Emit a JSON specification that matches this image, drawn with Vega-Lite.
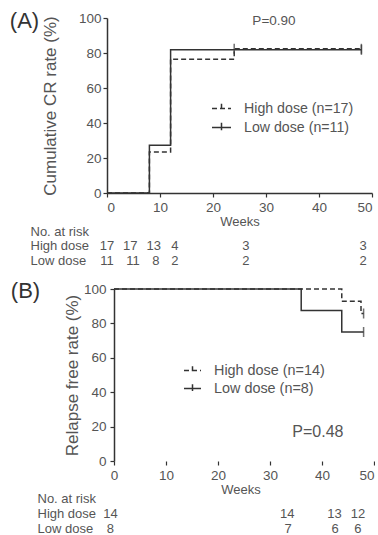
{
  "$schema": "https://vega.github.io/schema/vega-lite/v6.json",
  "padding": {"left": 9, "top": 10, "right": 0, "bottom": 0},
  "bounds": "flush",
  "spacing": 20,
  "config": {
    "font": "Liberation Sans",
    "view": {"stroke": null},
    "axis": {
      "domainColor": "#333", "tickColor": "#333", "labelColor": "#555", "titleColor": "#555",
      "labelFontSize": 13.5, "titleFontSize": 17, "titleFontWeight": "normal", "grid": false,
      "tickSize": 4, "domainWidth": 1.5, "tickWidth": 1.2, "labelOverlap": false, "tickCount": 20
    },
    "legend": {
      "orient": "none", "title": null, "padding": 0, "rowPadding": 1,
      "symbolType": "M-1,0H1M0,-0.5V0.3", "symbolStrokeColor": "#333", "symbolFillColor": "transparent",
      "symbolStrokeWidth": 1.5, "labelColor": "#555", "labelOffset": 12, "labelFontSize": 14.2
    },
    "title": {"fontWeight": "normal", "color": "#333"}
  },
  "resolve": {
    "scale": {"x": "independent", "y": "independent", "strokeDash": "independent"},
    "legend": {"strokeDash": "independent"}
  },
  "datasets": {
    "curvesA": [
      {"group": "High dose (n=17)", "week": 0, "rate": 0},
      {"group": "High dose (n=17)", "week": 8, "rate": 23.5},
      {"group": "High dose (n=17)", "week": 12, "rate": 76.5},
      {"group": "High dose (n=17)", "week": 24, "rate": 82.4},
      {"group": "High dose (n=17)", "week": 48, "rate": 82.4},
      {"group": "Low dose (n=11)", "week": 0, "rate": 0},
      {"group": "Low dose (n=11)", "week": 8, "rate": 27.3},
      {"group": "Low dose (n=11)", "week": 12, "rate": 81.8},
      {"group": "Low dose (n=11)", "week": 48, "rate": 81.8}
    ],
    "censorA": [
      {"group": "High dose (n=17)", "week": 24, "rate": 82.4},
      {"group": "High dose (n=17)", "week": 48, "rate": 82.4},
      {"group": "Low dose (n=11)", "week": 48, "rate": 81.8}
    ],
    "riskA": [
      {"row": "High dose", "week": 0, "n": "17"},
      {"row": "High dose", "week": 4.4, "n": "17"},
      {"row": "High dose", "week": 8.8, "n": "13"},
      {"row": "High dose", "week": 12.8, "n": "4"},
      {"row": "High dose", "week": 26.2, "n": "3"},
      {"row": "High dose", "week": 48.3, "n": "3"},
      {"row": "Low dose", "week": 0, "n": "11"},
      {"row": "Low dose", "week": 4.9, "n": "11"},
      {"row": "Low dose", "week": 9.2, "n": "8"},
      {"row": "Low dose", "week": 12.8, "n": "2"},
      {"row": "Low dose", "week": 26.2, "n": "2"},
      {"row": "Low dose", "week": 48.3, "n": "2"}
    ],
    "curvesB": [
      {"group": "High dose (n=14)", "week": 0, "rate": 100},
      {"group": "High dose (n=14)", "week": 43.8, "rate": 92.9},
      {"group": "High dose (n=14)", "week": 47.5, "rate": 85.7},
      {"group": "High dose (n=14)", "week": 48, "rate": 85.7},
      {"group": "Low dose (n=8)", "week": 0, "rate": 100},
      {"group": "Low dose (n=8)", "week": 36, "rate": 87.5},
      {"group": "Low dose (n=8)", "week": 43.8, "rate": 75},
      {"group": "Low dose (n=8)", "week": 48, "rate": 75}
    ],
    "censorB": [
      {"group": "High dose (n=14)", "week": 48, "rate": 85.7},
      {"group": "Low dose (n=8)", "week": 48, "rate": 75}
    ],
    "riskB": [
      {"row": "High dose", "week": -0.7, "n": "14"},
      {"row": "High dose", "week": 33.3, "n": "14"},
      {"row": "High dose", "week": 42.4, "n": "13"},
      {"row": "High dose", "week": 46.9, "n": "12"},
      {"row": "Low dose", "week": -0.7, "n": "8"},
      {"row": "Low dose", "week": 33.5, "n": "7"},
      {"row": "Low dose", "week": 42.5, "n": "6"},
      {"row": "Low dose", "week": 46.9, "n": "6"}
    ],
    "pA": [{"week": 31.5, "rate": 98.3, "label": "P=0.90"}],
    "pB": [{"week": 39.2, "rate": 17, "label": "P=0.48"}]
  },
  "vconcat": [
    {
      "width": 265, "height": 175,
      "title": {"text": "(A)", "orient": "left", "anchor": "end", "angle": 0, "baseline": "middle", "align": "right", "fontSize": 22, "offset": -27, "dy": 10},
      "layer": [
        {
          "data": {"name": "curvesA"},
          "mark": {"type": "line", "interpolate": "step-after", "color": "#333", "strokeWidth": 1.5},
          "encoding": {
            "x": {"field": "week", "type": "quantitative", "scale": {"domain": [0, 50], "nice": false},
                  "axis": {"values": [0, 10, 20, 30, 40, 50], "tickCount": 20, "title": "Weeks", "titleFontSize": 13, "labelPadding": 3, "titlePadding": 2, "labelOverlap": false}},
            "y": {"field": "rate", "type": "quantitative", "scale": {"domain": [0, 100], "nice": false},
                  "axis": {"values": [0, 20, 40, 60, 80, 100], "tickCount": 20, "title": "Cumulative CR rate (%)", "titlePadding": 19, "labelPadding": 2, "labelOverlap": false}},
            "strokeDash": {"field": "group", "type": "nominal",
                  "scale": {"domain": ["High dose (n=17)", "Low dose (n=11)"], "range": [[5, 3], [1, 0]]},
                  "legend": {"legendX": 104, "legendY": 80, "symbolSize": 361}}
          }
        },
        {
          "data": {"name": "censorA"},
          "mark": {"type": "tick", "orient": "vertical", "size": 10, "thickness": 1.5, "color": "#333"},
          "encoding": {
            "x": {"field": "week", "type": "quantitative"},
            "y": {"field": "rate", "type": "quantitative"}
          }
        },
        {
          "data": {"name": "pA"},
          "mark": {"type": "text", "fontSize": 13.5, "color": "#555", "baseline": "middle"},
          "encoding": {
            "x": {"field": "week", "type": "quantitative"},
            "y": {"field": "rate", "type": "quantitative"},
            "text": {"field": "label"}
          }
        }
      ]
    },
    {
      "width": 265, "height": 56,
      "data": {"name": "riskA"},
      "mark": {"type": "text", "fontSize": 13, "color": "#555", "baseline": "middle"},
      "encoding": {
        "x": {"field": "week", "type": "quantitative", "scale": {"domain": [0, 50], "nice": false}, "axis": null},
        "y": {"field": "row", "type": "nominal",
              "scale": {"type": "point", "domain": ["No. at risk", "High dose", "Low dose"], "padding": 0.8667, "align": 0.6923},
              "axis": {"title": null, "domain": false, "ticks": false, "tickSize": 0, "labelAlign": "left", "labelPadding": 77, "labelFontSize": 13, "labelBaseline": "middle"}},
        "text": {"field": "n"}
      }
    },
    {
      "width": 267, "height": 172,
      "title": {"text": "(B)", "orient": "left", "anchor": "end", "angle": 0, "baseline": "middle", "align": "right", "fontSize": 22, "offset": -6, "dy": 9},
      "layer": [
        {
          "mark": {"type": "rule", "color": "#333", "strokeWidth": 1.5},
          "encoding": {"x": {"datum": 0}, "x2": {"datum": 50}, "y": {"datum": 0}}
        },
        {
          "data": {"name": "curvesB"},
          "mark": {"type": "line", "interpolate": "step-after", "color": "#333", "strokeWidth": 1.5},
          "encoding": {
            "x": {"field": "week", "type": "quantitative", "scale": {"domain": [-1.35, 50], "nice": false, "zero": false},
                  "axis": {"values": [0, 10, 20, 30, 40, 50], "tickCount": 20, "title": "Weeks", "titleFontSize": 13, "labelPadding": 3, "titlePadding": 2, "domain": false, "labelOverlap": false}},
            "y": {"field": "rate", "type": "quantitative", "scale": {"domain": [0, 100], "nice": false},
                  "axis": {"values": [0, 20, 40, 60, 80, 100], "tickCount": 20, "title": "Relapse free rate (%)", "titlePadding": 2, "labelPadding": 4, "offset": -7, "labelOverlap": false}},
            "strokeDash": {"field": "group", "type": "nominal",
                  "scale": {"domain": ["High dose (n=14)", "Low dose (n=8)"], "range": [[5, 3], [1, 0]]},
                  "legend": {"legendX": 76, "legendY": 72, "symbolSize": 289, "labelFontSize": 14.4, "rowPadding": 2}}
          }
        },
        {
          "data": {"name": "censorB"},
          "mark": {"type": "tick", "orient": "vertical", "size": 10, "thickness": 1.5, "color": "#333"},
          "encoding": {
            "x": {"field": "week", "type": "quantitative"},
            "y": {"field": "rate", "type": "quantitative"}
          }
        },
        {
          "data": {"name": "pB"},
          "mark": {"type": "text", "fontSize": 16, "color": "#555", "baseline": "middle"},
          "encoding": {
            "x": {"field": "week", "type": "quantitative"},
            "y": {"field": "rate", "type": "quantitative"},
            "text": {"field": "label"}
          }
        }
      ]
    },
    {
      "width": 267, "height": 56,
      "data": {"name": "riskB"},
      "mark": {"type": "text", "fontSize": 13, "color": "#555", "baseline": "middle"},
      "encoding": {
        "x": {"field": "week", "type": "quantitative", "scale": {"domain": [-1.35, 50], "nice": false, "zero": false}, "axis": null},
        "y": {"field": "row", "type": "nominal",
              "scale": {"type": "point", "domain": ["No. at risk", "High dose", "Low dose"], "padding": 0.8667, "align": 0.68},
              "axis": {"title": null, "domain": false, "ticks": false, "tickSize": 0, "labelAlign": "left", "labelPadding": 70, "labelFontSize": 13, "labelBaseline": "middle"}},
        "text": {"field": "n"}
      }
    }
  ]
}
